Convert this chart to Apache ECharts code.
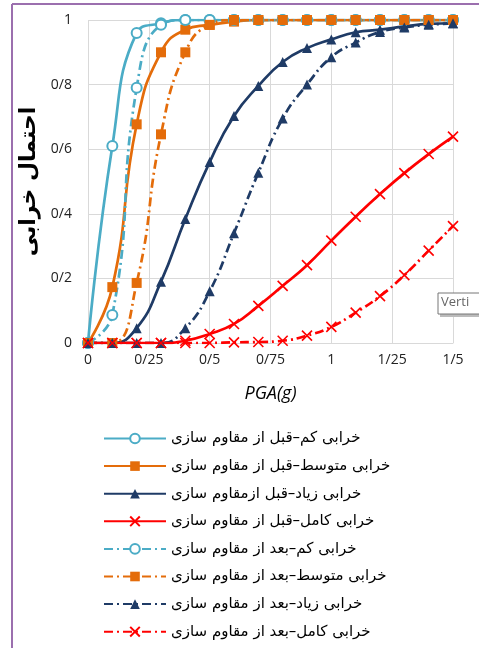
<!DOCTYPE html>
<html>
<head>
<meta charset="utf-8">
<script src="https://cdn.jsdelivr.net/npm/echarts@6/dist/echarts.min.js"></script>
<style>
html,body{margin:0;padding:0;background:#fff;}
#chart{width:479px;height:648px;}
</style>
</head>
<body>
<div id="chart"></div>
<script>
var pga = [0, 0.1, 0.2, 0.3, 0.4, 0.5, 0.6, 0.7, 0.8, 0.9, 1.0, 1.1, 1.2, 1.3, 1.4, 1.5];
var xTickLabels = ['0', '0/25', '0/5', '0/75', '1', '1/25', '1/5'];
var yTickLabels = ['0', '0/2', '0/4', '0/6', '0/8', '1'];

var slightBefore   = [0, 0.61, 0.96, 0.99, 1, 1, 1, 1, 1, 1, 1, 1, 1, 1, 1, 1];
var moderateBefore = [0, 0.173, 0.677, 0.90, 0.97, 0.985, 0.995, 1, 1, 1, 1, 1, 1, 1, 1, 1];
var extensiveBefore= [0, 0, 0.046, 0.19, 0.384, 0.56, 0.703, 0.796, 0.87, 0.913, 0.94, 0.962, 0.97, 0.98, 0.988, 0.99];
var completeBefore = [0, 0, 0, 0, 0.007, 0.028, 0.059, 0.115, 0.177, 0.241, 0.317, 0.391, 0.461, 0.526, 0.585, 0.639];
var slightAfter    = [0, 0.087, 0.79, 0.985, 1, 1, 1, 1, 1, 1, 1, 1, 1, 1, 1, 1];
var moderateAfter  = [0, 0, 0.186, 0.646, 0.90, 0.985, 1, 1, 1, 1, 1, 1, 1, 1, 1, 1];
var extensiveAfter = [0, 0, 0, 0, 0.046, 0.16, 0.34, 0.527, 0.695, 0.80, 0.885, 0.93, 0.963, 0.977, 0.985, 0.99];
var completeAfter  = [0, 0, 0, 0, 0, 0, 0.002, 0.003, 0.007, 0.023, 0.05, 0.094, 0.145, 0.21, 0.286, 0.362];

var seriesNames = [
  'خرابی کم–قبل از مقاوم سازی',
  'خرابی متوسط–قبل از مقاوم سازی',
  'خرابی زیاد–قبل ازمقاوم سازی',
  'خرابی کامل–قبل از مقاوم سازی',
  'خرابی کم–بعد از مقاوم سازی',
  'خرابی متوسط–بعد از مقاوم سازی',
  'خرابی زیاد–بعد از مقاوم سازی',
  'خرابی کامل–بعد از مقاوم سازی'
];
var yAxisName = 'احتمال خرابی';
var xAxisName = 'PGA(g)';

var C_BLUE = '#4BACC6', C_ORANGE = '#E46C0A', C_NAVY = '#1F3B66', C_RED = '#FF0000';
var CROSS = 'path://M0,0L10,10M10,0L0,10';
var DASHDOT = [9, 4, 2, 4];

function pairs(arr){ return pga.map(function(x,i){ return [x, arr[i]]; }); }

function mk(name, data, color, symbol, dashed, size){
  var isCross = symbol === CROSS;
  return {
    name: name, type: 'line', data: pairs(data),
    smooth: 0.5,
    symbol: symbol, symbolSize: size,
    showAllSymbol: true,
    lineStyle: { color: color, width: 2.7, type: dashed ? DASHDOT : 'solid' },
    itemStyle: isCross ? { color: color, borderColor: color, borderWidth: 1.6 } :
               (symbol === 'emptyCircle' ? { color: color, borderColor: color, borderWidth: 1.3 } : { color: color }),
    emphasis: { disabled: true },
    z: 2
  };
}

var chart = echarts.init(document.getElementById('chart'), null, { renderer: 'canvas' });
chart.setOption({
  animation: false,
  backgroundColor: '#fff',
  grid: { left: 88, right: 26, top: 20, bottom: 305 },
  xAxis: {
    type: 'value', min: 0, max: 1.5, interval: 0.25,
    name: xAxisName, nameLocation: 'middle', nameGap: 42,
    nameTextStyle: { fontFamily: 'Open Sans', fontStyle: 'italic', fontSize: 18, color: '#000' },
    axisLine: { show: true, lineStyle: { color: '#D9D9D9', width: 1 } },
    axisTick: { show: false },
    splitLine: { show: true, lineStyle: { color: '#D9D9D9', width: 1 } },
    axisLabel: {
      color: '#222', fontSize: 14, fontFamily: 'Open Sans', margin: 10,
      formatter: function(v){ return xTickLabels[Math.round(v / 0.25)]; }
    }
  },
  yAxis: {
    type: 'value', min: 0, max: 1, interval: 0.2,
    name: yAxisName, nameLocation: 'middle', nameGap: 46,
    nameTextStyle: { fontFamily: 'DejaVu Sans', fontWeight: 'bold', fontSize: 22, color: '#000' },
    axisLine: { show: false },
    axisTick: { show: false },
    splitLine: { show: true, lineStyle: { color: '#D9D9D9', width: 1 } },
    axisLabel: {
      color: '#222', fontSize: 14, fontFamily: 'Open Sans', margin: 16,
      formatter: function(v){ return yTickLabels[Math.round(v / 0.2)]; }
    }
  },
  legend: {
    orient: 'vertical', left: 103, top: 431, padding: 0,
    itemWidth: 62, itemHeight: 12, itemGap: 12.6,
    textStyle: { fontFamily: 'DejaVu Sans', fontSize: 15, color: '#000' },
    data: seriesNames
  },
  series: [
    mk(seriesNames[0], slightBefore, C_BLUE, 'emptyCircle', false, 10),
    mk(seriesNames[1], moderateBefore, C_ORANGE, 'rect', false, 10),
    mk(seriesNames[2], extensiveBefore, C_NAVY, 'triangle', false, 10),
    mk(seriesNames[3], completeBefore, C_RED, CROSS, false, 10),
    mk(seriesNames[4], slightAfter, C_BLUE, 'emptyCircle', true, 10),
    mk(seriesNames[5], moderateAfter, C_ORANGE, 'rect', true, 10),
    mk(seriesNames[6], extensiveAfter, C_NAVY, 'triangle', true, 10),
    mk(seriesNames[7], completeAfter, C_RED, CROSS, true, 10)
  ],
  graphic: [
    { type: 'line', shape: { x1: 12, y1: 4, x2: 479, y2: 4 }, style: { stroke: '#9B6FAE', lineWidth: 2 }, z: 100 },
    { type: 'line', shape: { x1: 12, y1: 4, x2: 12, y2: 648 }, style: { stroke: '#9B6FAE', lineWidth: 2 }, z: 100 },
    { type: 'rect', shape: { x: 440, y: 296, width: 45, height: 21 }, style: { fill: '#bbb' }, z: 100 },
    { type: 'rect', shape: { x: 438, y: 293, width: 45, height: 21 }, style: { fill: '#fff', stroke: '#777', lineWidth: 1 }, z: 101 },
    { type: 'text', left: 441, top: 296, style: { text: 'Verti', fill: '#666', font: '13px "Open Sans"' }, z: 102 }
  ]
});
</script>
</body>
</html>
